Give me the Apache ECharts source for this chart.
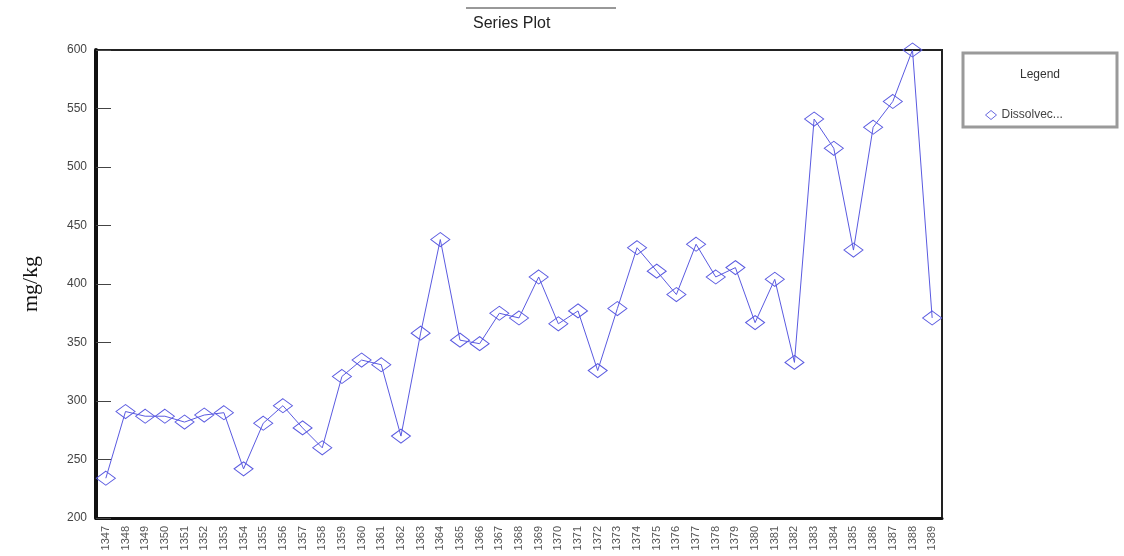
<!DOCTYPE html>
<html>
<head>
<meta charset="utf-8">
<script src="https://cdn.jsdelivr.net/npm/echarts@6/dist/echarts.min.js"></script>
<style>html,body{margin:0;padding:0;background:#fff;}#c{width:1124px;height:556px;}</style>
</head>
<body>
<div id="c"></div>
<script>
const years = ['1347','1348','1349','1350','1351','1352','1353','1354','1355','1356','1357','1358','1359','1360','1361','1362','1363','1364','1365','1366','1367','1368','1369','1370','1371','1372','1373','1374','1375','1376','1377','1378','1379','1380','1381','1382','1383','1384','1385','1386','1387','1388','1389'];
const dissolved = [234,291,287,287,282,288,290,242,281,296,277,260,321,335,331,270,358,438,352,349,375,371,406,366,377,326,379,431,411,391,434,406,414,367,404,333,541,516,429,534,556,600,371];
const yTicks = [200,250,300,350,400,450,500,550,600];
const seriesName = 'Dissolved';
const legendLabel = 'Dissolvec...';

const chart = echarts.init(document.getElementById('c'));
chart.setOption({
  animation: false,
  backgroundColor: '#fff',
  title: {
    text: 'Series Plot', left: 468, top: 11,
    textStyle: {fontFamily: 'Liberation Sans', fontSize: 16, fontWeight: 'normal', color: '#222'}
  },
  grid: {left: 96, right: 182, top: 50, bottom: 38, show: true, borderColor: '#222', borderWidth: 2, backgroundColor: '#fff'},
  legend: {
    data: [{name: seriesName, icon: 'diamond'}],
    left: 980, top: 104, itemWidth: 11, itemHeight: 9, itemGap: 4,
    itemStyle: {color: '#fff', borderColor: '#6a6ae0', borderWidth: 1},
    formatter: () => legendLabel,
    textStyle: {fontFamily: 'Liberation Sans', fontSize: 12, color: '#444'}
  },
  xAxis: {
    type: 'category', data: years, boundaryGap: true,
    axisLine: {lineStyle: {color: '#111', width: 3}},
    axisTick: {inside: true, length: 13, alignWithLabel: true, lineStyle: {color: '#444', width: 1}},
    axisLabel: {rotate: 90, interval: 0, margin: 8, fontFamily: 'Liberation Sans', fontSize: 11, color: '#555'},
    splitLine: {show: false}
  },
  yAxis: {
    type: 'value', min: yTicks[0], max: yTicks[yTicks.length-1], interval: 50,
    name: 'mg/kg', nameLocation: 'middle', nameGap: 54,
    nameTextStyle: {fontFamily: 'Liberation Serif', fontSize: 22, color: '#111'},
    axisLine: {show: true, lineStyle: {color: '#111', width: 4}},
    axisTick: {show: true, inside: true, length: 15, lineStyle: {color: '#444', width: 1}},
    axisLabel: {fontFamily: 'Liberation Sans', fontSize: 12, color: '#444', margin: 9},
    splitLine: {show: false}
  },
  series: [{
    name: seriesName, type: 'line', data: dissolved,
    symbol: 'diamond', symbolSize: [19, 14],
    lineStyle: {color: '#5a5ae0', width: 1},
    itemStyle: {color: 'rgba(255,255,255,0)', borderColor: '#5a5ae0', borderWidth: 1}
  }],
  graphic: [
    {type: 'line', shape: {x1: 466, y1: 8, x2: 616, y2: 8}, style: {stroke: '#333', lineWidth: 1}},
    {type: 'rect', shape: {x: 963, y: 53, width: 154, height: 74}, style: {fill: '#fff', stroke: '#9a9a9a', lineWidth: 3}, z: -1},
    {type: 'text', x: 1040, y: 75, style: {text: 'Legend', fontFamily: 'Liberation Sans', fontSize: 12, fill: '#333', textAlign: 'center', textVerticalAlign: 'middle'}}
  ]
});
</script>
</body>
</html>
